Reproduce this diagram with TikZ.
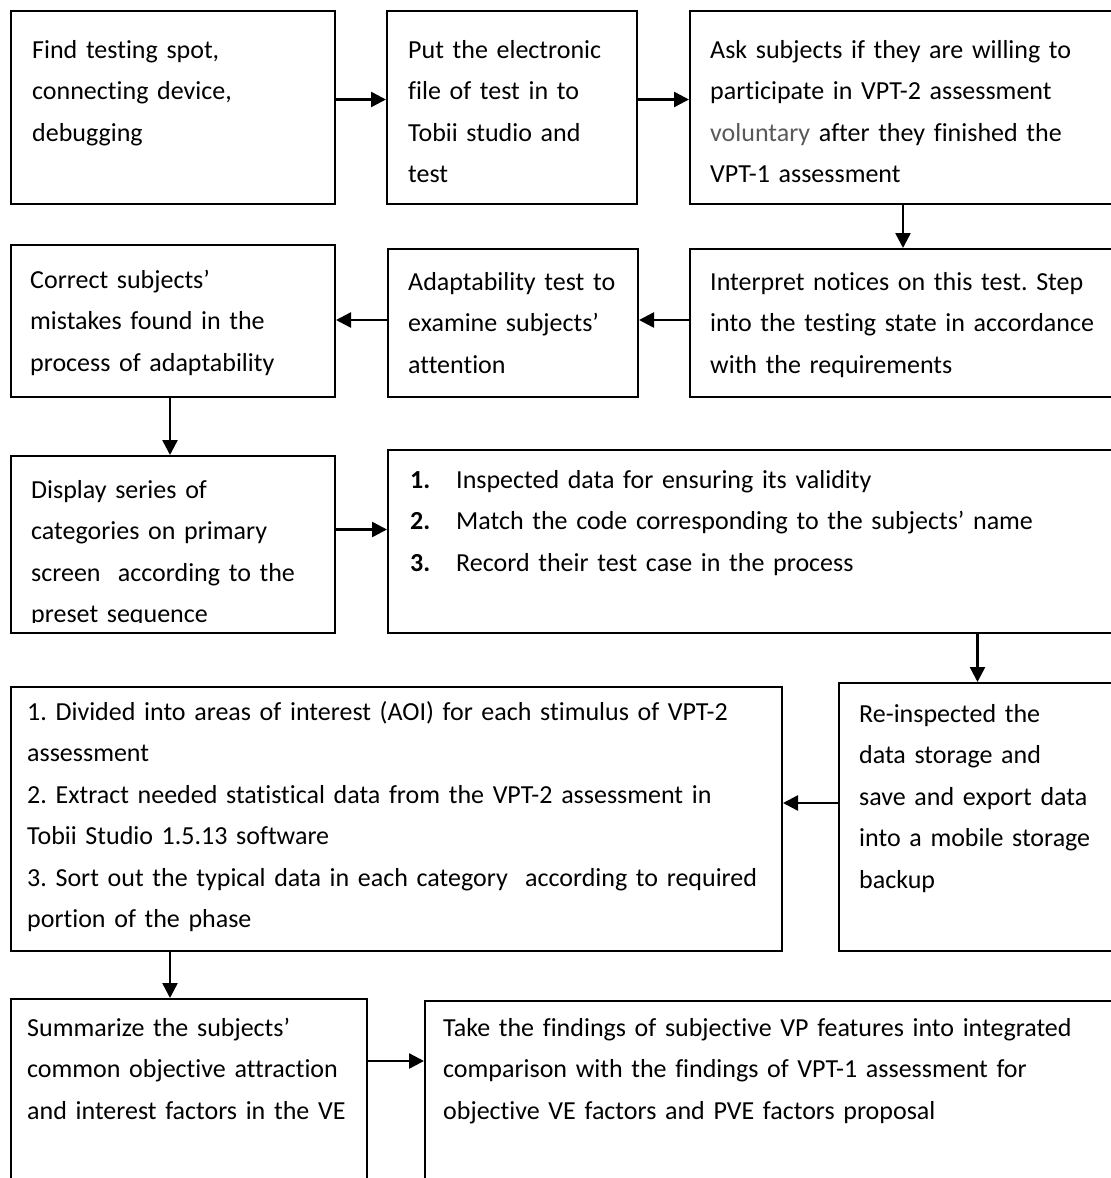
\documentclass[tikz,border=0pt]{standalone}
\usepackage{fontspec}
\setmainfont{Carlito}[Ligatures={TeX,NoCommon}]
\usetikzlibrary{arrows.meta}
\definecolor{softgray}{RGB}{89,89,89}
\tikzstyle{box}=[draw,line width=2pt,rectangle,inner sep=0pt,anchor=north west]
\tikzstyle{txt}=[anchor=base west,inner sep=0pt,text width=760pt,align=left,font=\fontsize{26}{41.5}\selectfont\frenchspacing]
\tikzstyle{arrow}=[draw,line width=2.5pt,-{Triangle[length=15pt,width=15pt]}]
\newcommand{\num}[1]{\makebox[46pt][l]{\textbf{#1}}}

\begin{document}
\begin{tikzpicture}[x=1pt,y=-1pt]
  \useasboundingbox (0,0) rectangle (1111,1178);
  \clip (0,0) rectangle (1111,1178);

  % We draw the boxes first, the ones on the right run off the page
  \foreach \name/\x/\y/\w/\h in {find/10/10/324/193, put/386/10/250/193, ask/689/10/426/193,
      correct/10/244/324/152, adapt/387/248/250/148, interp/689/248/426/148,
      display/10/455/324/177, data/387/449/728/183,
      divided/10/686/771/264, reinsp/838/682/277/268,
      sum/10/998/356/230, take/424/1000/691/230} {
    \node[box,minimum width=\w pt,minimum height=\h pt] (\name) at (\x,\y) {};
  }

  % Then the texts, each one hanging from the corner of its box
  \node[txt] (find-t) at ([shift={(22,48)}]find.north west)
    {Find testing spot,\\connecting device,\\debugging};
  \node[txt] (put-t) at ([shift={(22,48)}]put.north west)
    {Put the electronic\\file of test in to\\Tobii studio and\\test};
  \node[txt] (ask-t) at ([shift={(21,48)}]ask.north west)
    {Ask subjects if they are willing to\\participate in VPT-2 assessment\\{\color{softgray}voluntary} after they finished the\\VPT-1 assessment};
  \node[txt] (interp-t) at ([shift={(21,42)}]interp.north west)
    {Interpret notices on this test. Step\\into the testing state in accordance\\with the requirements};
  \node[txt] (adapt-t) at ([shift={(21,42)}]adapt.north west)
    {Adaptability test to\\examine subjects'\\attention};
  \node[txt] (correct-t) at ([shift={(20,44)}]correct.north west)
    {Correct subjects'\\mistakes found in the\\process of adaptability};
  \begin{scope}
    \clip (display.north west) rectangle ([yshift=12pt]display.south east);
    \node[txt] (display-t) at ([shift={(21,43)}]display.north west)
      {Display series of\\categories on primary\\screen\ \ according to the\\preset sequence};
  \end{scope}
  \node[txt] (data-t) at ([shift={(23,39)}]data.north west)
    {\num{1.}Inspected data for ensuring its validity\\\num{2.}Match the code corresponding to the subjects' name\\\num{3.}Record their test case in the process};
  \node[txt] (divided-t) at ([shift={(17,34)}]divided.north west)
    {1. Divided into areas of interest (AOI) for each stimulus of VPT-2\\assessment\\2. Extract needed statistical data from the VPT-2 assessment in\\Tobii Studio 1.5.13 software\\3. Sort out the typical data in each category\ \ according to required\\portion of the phase};
  \node[txt] (reinsp-t) at ([shift={(21,40)}]reinsp.north west)
    {Re-inspected the\\data storage and\\save and export data\\into a mobile storage\\backup};
  \node[txt] (sum-t) at ([shift={(17,38)}]sum.north west)
    {Summarize the subjects'\\common objective attraction\\and interest factors in the VE};
  \node[txt] (take-t) at ([shift={(19,36)}]take.north west)
    {Take the findings of subjective VP features into integrated\\comparison with the findings of VPT-1 assessment for\\objective VE factors and PVE factors proposal};

  % Connect the boxes in the order of the procedure
  \path[arrow] ([yshift=8pt]find.east) -- ([yshift=8pt]find.east -| put.west);
  \path[arrow] ([yshift=8pt]put.east) -- ([yshift=8pt]put.east -| ask.west);
  \path[arrow] (ask.south) -- (interp.north);
  \path[arrow] ([yshift=3pt]interp.west) -- ([yshift=3pt]interp.west -| adapt.east);
  \path[arrow] ([yshift=3pt]adapt.west) -- ([yshift=3pt]adapt.west -| correct.east);
  \path[arrow] ([xshift=-3pt]correct.south) -- ([xshift=-3pt]correct.south |- display.north);
  \path[arrow] ([yshift=15pt]display.east) -- ([yshift=15pt]display.east -| data.west);
  \path[arrow] (data.south -| reinsp.north) -- (reinsp.north);
  \path[arrow] ([yshift=14pt]reinsp.west) -- ([yshift=14pt]reinsp.west -| divided.east);
  \path[arrow] ([xshift=-19pt]sum.north |- divided.south) -- ([xshift=-19pt]sum.north);
  \path[arrow] ([yshift=-63pt]sum.north east) -- ([yshift=-63pt]sum.north east -| take.west);
\end{tikzpicture}
\end{document}
